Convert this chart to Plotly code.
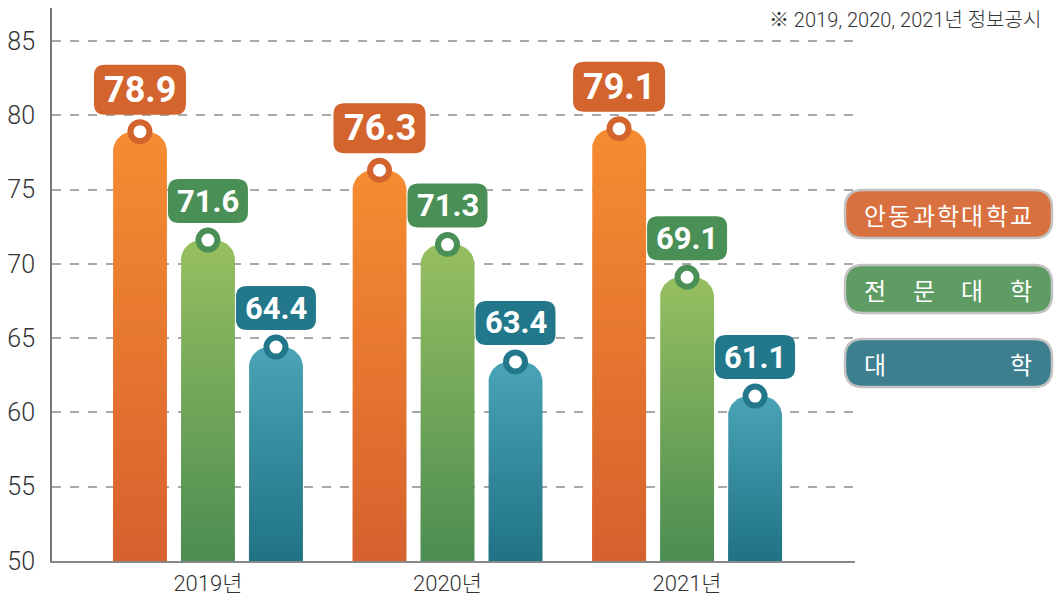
import numpy as np
import plotly.graph_objects as go

# ---------------- data ----------------
years = ["2019년", "2020년", "2021년"]
series_names = ["안동과학대학교", "전 문 대 학", "대          학"]
andong = [78.9, 76.3, 79.1]
junmun = [71.6, 71.3, 69.1]
daehak = [64.4, 63.4, 61.1]
series_values = [andong, junmun, daehak]
y_ticks = [50, 55, 60, 65, 70, 75, 80, 85]
footnote = "※ 2019, 2020, 2021년 정보공시"

# ---------------- style ----------------
bar_top = ["#f68c31", "#97bf60", "#4aa3b6"]
bar_bottom = ["#d6612e", "#4b8d51", "#1f7384"]
label_col = ["#d3642d", "#4a9056", "#22788a"]
legend_col = ["#d9703f", "#5e9c63", "#3d7f8e"]

W, H = 1055, 601
ML, MR, MT, MB = 52, 200, 8, 40
plot_w = W - ML - MR
plot_h = H - MT - MB
x_range = [-0.651, 2.701]
y_range = [50, 50 + plot_h / 14.857]
px_x = plot_w / (x_range[1] - x_range[0])
px_y = plot_h / (y_range[1] - y_range[0])

offset = 68 / px_x
half_w = 27 / px_x
r_px = 20
rx, ry = r_px / px_x, r_px / px_y

fig = go.Figure()


def rrect(x0, y0, x1, y1, r):
    return (f"M{x0+r},{y0} L{x1-r},{y0} Q{x1},{y0} {x1},{y0+r} "
            f"L{x1},{y1-r} Q{x1},{y1} {x1-r},{y1} L{x0+r},{y1} "
            f"Q{x0},{y1} {x0},{y1-r} L{x0},{y0+r} Q{x0},{y0} {x0+r},{y0} Z")


shapes = []
annotations = []

for s, vals in enumerate(series_values):
    centers = [g + (s - 1) * offset for g in range(len(years))]
    for xc, v in zip(centers, vals):
        base = y_range[0]
        t = np.linspace(np.pi, np.pi / 2, 12)
        t2 = np.linspace(np.pi / 2, 0, 12)
        xs = [xc - half_w]
        ys = [base]
        xs += list(xc - half_w + rx + rx * np.cos(t))
        ys += list(v - ry + ry * np.sin(t))
        xs += list(xc + half_w - rx + rx * np.cos(t2))
        ys += list(v - ry + ry * np.sin(t2))
        xs += [xc + half_w, xc - half_w]
        ys += [base, base]
        fig.add_trace(go.Scatter(
            x=xs, y=ys, mode="lines", fill="toself",
            line=dict(width=0, color="rgba(0,0,0,0)"),
            fillgradient=dict(type="vertical",
                              colorscale=[[0, bar_bottom[s]], [1, bar_top[s]]]),
            hoverinfo="skip", showlegend=False))
        # label box
        if s == 0:
            bw, b0, b1, fs, yc = 46, 17, 67, 36, 42
        else:
            bw, b0, b1, fs, yc = 40, 17, 61, 31, 39
        shapes.append(dict(
            type="path", xref="x", yref="y", xsizemode="pixel", ysizemode="pixel",
            xanchor=xc, yanchor=v, path=rrect(-bw, b0, bw, b1, 11),
            fillcolor=label_col[s], line=dict(width=0)))
        annotations.append(dict(
            x=xc, y=v, xref="x", yref="y", text=f"{v:.1f}", showarrow=False,
            yshift=yc, xanchor="center", yanchor="middle",
            font=dict(family="Roboto", size=fs, color="white", weight="bold")))
    fig.add_trace(go.Scatter(
        x=centers, y=vals, mode="markers",
        marker=dict(size=19, color="white", line=dict(width=6, color=label_col[s])),
        hoverinfo="skip", showlegend=False, cliponaxis=False))

# legend boxes
legend_cy = [214, 289, 363]
for s, name in enumerate(series_names):
    cy = legend_cy[s]
    shapes.append(dict(
        type="path", xref="paper", yref="paper", xsizemode="pixel", ysizemode="pixel",
        xanchor=1, yanchor=0,
        path=rrect(845 - (ML + plot_w), (MT + plot_h) - (cy + 24),
                   1052 - (ML + plot_w), (MT + plot_h) - (cy - 24), 18),
        fillcolor=legend_col[s], line=dict(width=2.5, color="#c2c2c2")))
    chars = [c for c in name if c != " "]
    n = len(chars)
    left_c, right_c = 875, 1021
    for i, ch in enumerate(chars):
        cx = left_c + (right_c - left_c) * (i / (n - 1) if n > 1 else 0.5)
        annotations.append(dict(
            x=1, y=0, xref="paper", yref="paper", text=ch, showarrow=False,
            xshift=cx - (ML + plot_w), yshift=(MT + plot_h) - cy,
            xanchor="center", yanchor="middle",
            font=dict(family="Noto Sans CJK KR", size=24, color="white")))

annotations.append(dict(
    x=1, y=1, xref="paper", yref="paper", text=footnote, showarrow=False,
    xshift=1043 - (ML + plot_w), yshift=-12, xanchor="right", yanchor="middle",
    font=dict(family="Roboto, Noto Sans CJK KR", size=20, color="#333333", weight=300)))

fig.update_layout(
    width=W, height=H,
    margin=dict(l=ML, r=MR, t=MT, b=MB),
    paper_bgcolor="white", plot_bgcolor="white",
    showlegend=False,
    shapes=shapes, annotations=annotations,
    xaxis=dict(range=x_range, tickvals=list(range(len(years))), ticktext=years,
               showgrid=False, zeroline=False, showline=True, linecolor="#888888",
               linewidth=2, ticks="", ticklabelstandoff=2, automargin=False,
               tickfont=dict(family="Roboto, Noto Sans CJK KR", size=22,
                             color="#333333", weight=300)),
    yaxis=dict(range=y_range, tickvals=y_ticks, showgrid=True, gridcolor="#a8a8a8",
               griddash="dash", gridwidth=1.5, zeroline=False, showline=True,
               linecolor="#777777", linewidth=2, ticks="", ticklabelstandoff=10,
               automargin=False,
               tickfont=dict(family="Roboto", size=25, color="#333333", weight=300)),
)

fig.write_html("out.html")
